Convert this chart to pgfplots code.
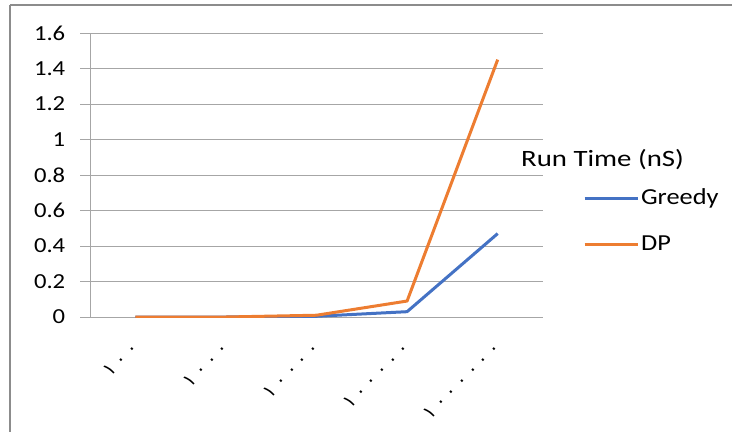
\documentclass[border=0pt]{standalone}
\usepackage{graphicx}
\usepackage{pgfplots}
\pgfplotsset{compat=1.18}
\usepackage{fontspec}
\setmainfont{Carlito}
\newfontfamily\arabicfont[LetterSpace=26]{DejaVu Sans}
\definecolor{greedyblue}{HTML}{4472C4}
\definecolor{dporange}{HTML}{ED7D31}
\definecolor{gridgray}{HTML}{A6A6A6}
\definecolor{framegray}{HTML}{8C8C8C}
\newcommand{\wide}[2][1.15]{\scalebox{#1}[1]{#2}}

\begin{document}
\begin{tikzpicture}
  \fontsize{20}{24}\selectfont
  \path[use as bounding box] (0bp,0bp) rectangle (732bp,-432bp);
  % outer chart frame (top and left edges)
  \draw[framegray, line width=1.2bp] (10bp,-5bp) -- (732bp,-5bp);
  \draw[framegray, line width=1.2bp] (10bp,-5bp) -- (10bp,-432bp);

  \begin{axis}[
      at={(90bp,-317bp)}, anchor=south west,
      scale only axis, width=453bp, height=284bp,
      xmin=-0.5, xmax=4.5, ymin=0, ymax=1.6,
      axis x line*=bottom, axis y line*=left,
      axis line style={gridgray, line width=0.9bp},
      ytick={0,0.2,...,1.6},
      ymajorgrids, grid style={gridgray, line width=0.9bp},
      ytick style={gridgray, line width=0.9bp},
      tick align=outside, major tick length=10bp,
      /pgf/number format/assume math mode=true,
      yticklabel style={font=\fontsize{21.5}{24}\selectfont, xscale=1.15, xshift=-6bp},
      xtick={0,1,2,3,4},
      xticklabels={١٠٠,١٠٠٠,١٠٠٠٠,١٠٠٠٠٠,١٠٠٠٠٠٠},
      x tick style={draw=none},
      xticklabel style={font=\arabicfont\fontsize{19}{22}\selectfont,
        yshift=-18bp, anchor=east, rotate=45, inner sep=0pt},
      extra x ticks={-0.5,0.5,1.5,2.5,3.5,4.5},
      extra x tick labels={},
      extra x tick style={grid=none, tick style={gridgray, line width=0.9bp}},
      legend cell align=left,
      legend style={draw=none, fill=none, inner sep=0pt,
        at={(1.088,0.338)}, anchor=west,
        font=\fontsize{23}{27}\selectfont, row sep=24bp},
      legend image code/.code={\draw[#1] (0bp,0bp) -- (53bp,0bp);},
      every axis plot/.append style={line width=3bp, line join=round},
    ]
    \addplot[greedyblue, mark=none] coordinates {(0,0) (1,0) (2,0.004) (3,0.03) (4,0.47)};
    \addlegendentry{\wide{Greedy}}
    \addplot[dporange, mark=none] coordinates {(0,0) (1,0) (2,0.01) (3,0.09) (4,1.45)};
    \addlegendentry{\wide{DP}}
  \end{axis}
  \node[anchor=west, inner sep=0pt, font=\fontsize{23.5}{28}\selectfont]
    at (521bp,-160bp) {\wide[1.23]{Run Time (nS)}};
\end{tikzpicture}
\end{document}
